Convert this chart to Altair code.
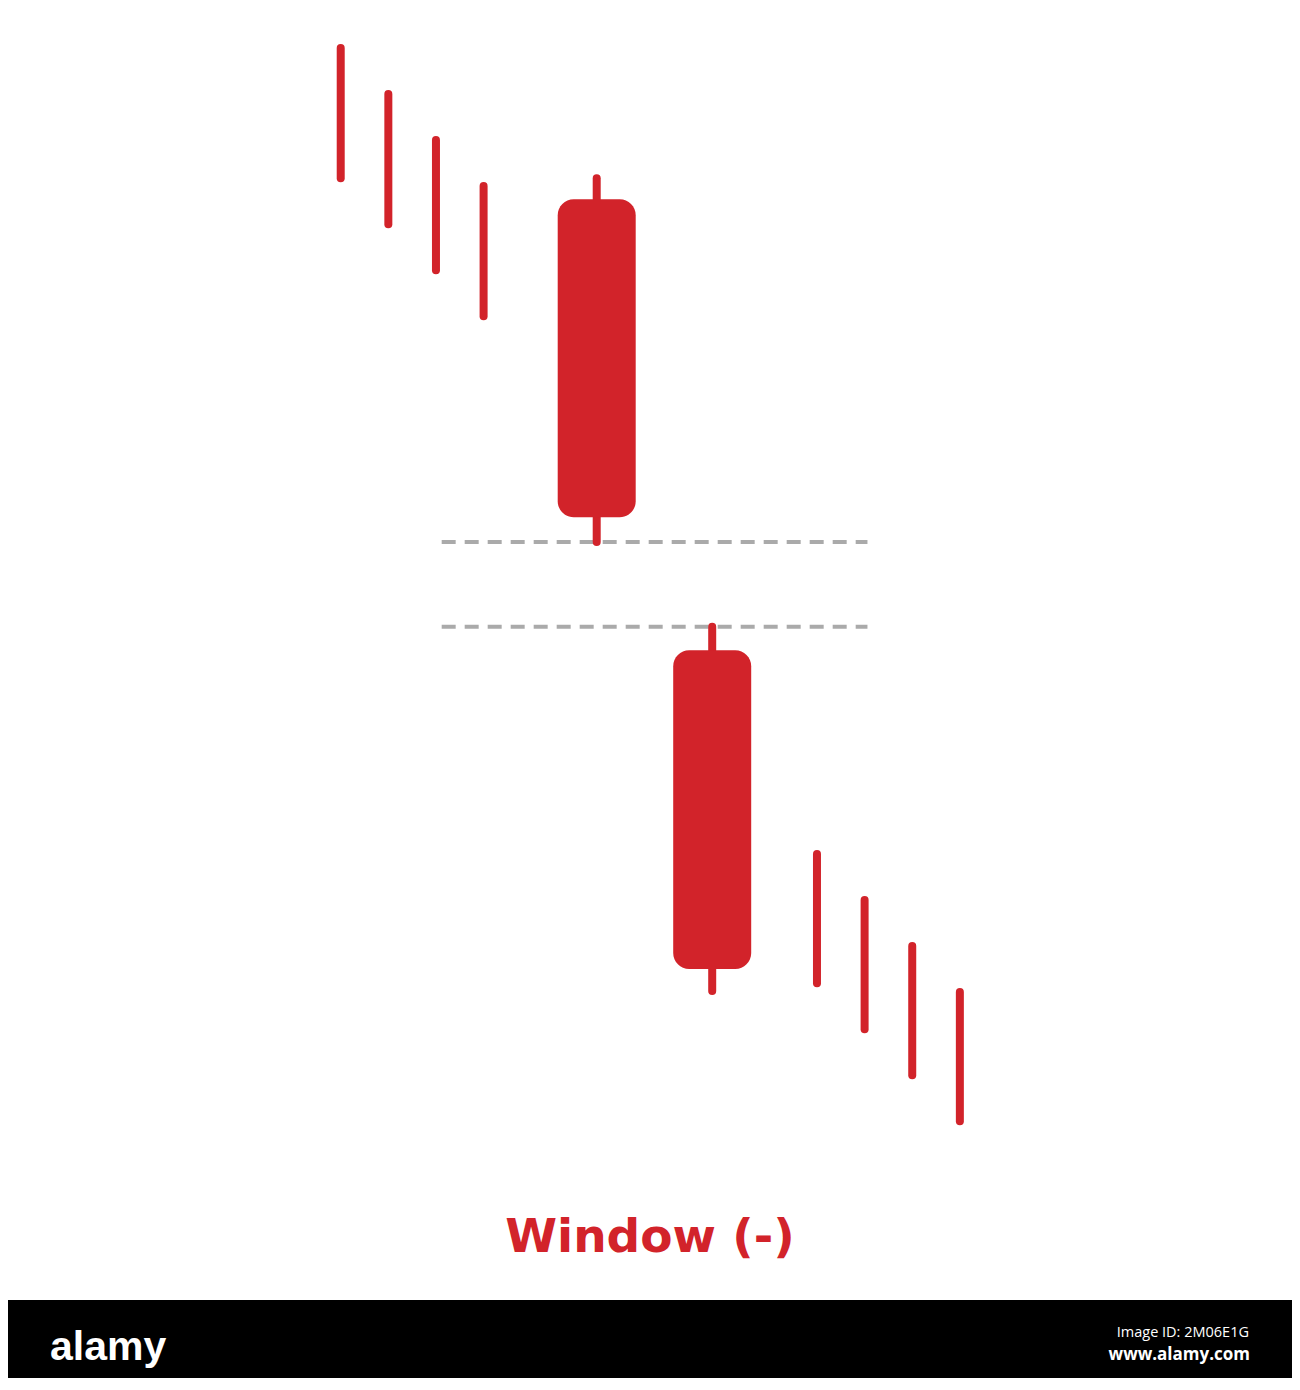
import altair as alt
import pandas as pd

# ---- data (arbitrary price units) ----
candle_slot = [0, 1, 2, 3, 5.375, 7.8, 10, 11, 12, 13]
candle_high = [300, 290, 280, 270, 271.7, 174.2, 124.8, 114.8, 104.8, 94.8]
candle_low = [271.7, 261.7, 251.7, 241.7, 192.6, 95.0, 96.7, 86.7, 76.7, 66.7]

body_slot = [5.375, 7.8]
body_open = [267.1, 169.1]
body_close = [198.0, 99.8]

window_levels = [192.6, 174.2]
window_start = [2.12, 2.12]
window_end = [11.06, 11.06]

title_text = "Window (-)"

RED = "#d2232a"
GRAY = "#aaaaaa"

W, H = 1284, 1370

candles = pd.DataFrame({"slot": candle_slot, "high": candle_high, "low": candle_low})
bodies = pd.DataFrame({"slot": body_slot, "open": body_open, "close": body_close})
windows = pd.DataFrame({"level": window_levels, "x0": window_start, "x1": window_end})

xs = alt.Scale(domain=[-6.881, -6.881 + W / 48.0], nice=False, zero=False)
ys = alt.Scale(domain=[300 - (H - 40) / 4.6, 300 + 40 / 4.6], nice=False, zero=False)

dashes = alt.Chart(windows).mark_rule(
    color=GRAY, strokeWidth=4, strokeDash=[14, 9], strokeCap="butt"
).encode(
    x=alt.X("x0:Q", scale=xs, axis=None),
    x2="x1:Q",
    y=alt.Y("level:Q", scale=ys, axis=None),
)

wicks = alt.Chart(candles).mark_rule(
    color=RED, strokeWidth=8, strokeCap="round"
).encode(
    x=alt.X("slot:Q", scale=xs, axis=None),
    y=alt.Y("high:Q", scale=ys, axis=None),
    y2="low:Q",
)

body = alt.Chart(bodies).mark_bar(
    color=RED, size=78, cornerRadius=16
).encode(
    x=alt.X("slot:Q", scale=xs, axis=None),
    y=alt.Y("open:Q", scale=ys, axis=None),
    y2="close:Q",
)

title = alt.Chart(pd.DataFrame({"t": [title_text]})).mark_text(
    font="DejaVu Sans", fontWeight="bold", fontSize=47, color=RED,
    align="center", baseline="alphabetic"
).encode(x=alt.value(642), y=alt.value(1244), text="t:N")

band = alt.Chart(pd.DataFrame({"a": [0]})).mark_rect(color="#000000").encode(
    x=alt.value(0), x2=alt.value(W), y=alt.value(1292), y2=alt.value(H)
)

logo = alt.Chart(pd.DataFrame({"t": ["alamy"]})).mark_text(
    font="Liberation Sans Narrow, Liberation Sans, sans-serif",
    fontWeight="bold", fontSize=41, color="#ffffff",
    align="left", baseline="alphabetic"
).encode(x=alt.value(42), y=alt.value(1352), text="t:N")

imgid = alt.Chart(pd.DataFrame({"t": ["Image ID: 2M06E1G"]})).mark_text(
    font="Open Sans", fontSize=14.5, color="#ffffff",
    align="right", baseline="alphabetic"
).encode(x=alt.value(1241), y=alt.value(1329), text="t:N")

site = alt.Chart(pd.DataFrame({"t": ["www.alamy.com"]})).mark_text(
    font="Open Sans", fontWeight="bold", fontSize=17, color="#ffffff",
    align="right", baseline="alphabetic"
).encode(x=alt.value(1242), y=alt.value(1352), text="t:N")

chart = alt.layer(dashes, wicks, body, title, band, logo, imgid, site).properties(
    width=W, height=H, padding=0, autosize=alt.AutoSizeParams(type="none"),
    background="#ffffff"
).configure_view(stroke=None)

chart.save("out.html", embed_options={"renderer": "svg", "actions": False})
